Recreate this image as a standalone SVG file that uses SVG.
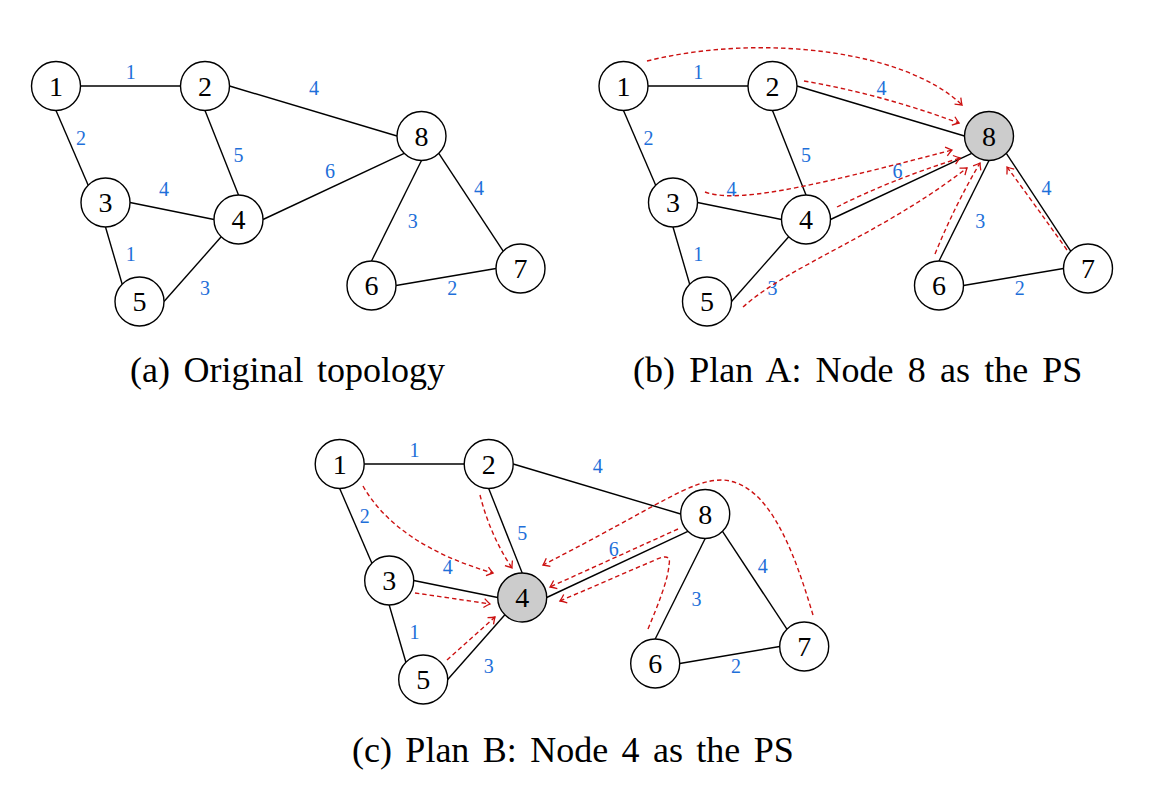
<svg xmlns="http://www.w3.org/2000/svg" width="1151" height="800" viewBox="0 0 1151 800">
<style>
.node circle{fill:#fff;stroke:#000;stroke-width:1.4}
.node.ps circle{fill:#cccccc}
.node text{font-family:"Liberation Serif","Times New Roman",serif;font-size:28px;fill:#000;text-anchor:middle}
.lbl{font-family:"Liberation Serif","Times New Roman",serif;font-size:20px;fill:#1e6fd9;text-anchor:middle}
.flow{fill:none;stroke:#cc1111;stroke-width:1.4;stroke-dasharray:4.5 3;marker-end:url(#ah)}
.cap{font-family:"Liberation Serif","Times New Roman",serif;font-size:36px;fill:#000;word-spacing:4.5px}
</style>
<defs>
<marker id="ah" viewBox="-8 -6 10 12" markerWidth="10" markerHeight="12" refX="0" refY="0" orient="auto" markerUnits="userSpaceOnUse">
<path d="M-6,-4.5 Q-2,-1.2 0,0 Q-2,1.2 -6,4.5" fill="none" stroke="#cc1111" stroke-width="1.3" stroke-dasharray="none"/>
</marker>
<g id="edgeset" stroke="#000" stroke-width="1.4" fill="none">
<line x1="80.5" y1="86" x2="180.5" y2="86"/>
<line x1="56" y1="110.5" x2="88.2" y2="185.2"/>
<line x1="205" y1="110.5" x2="238.5" y2="195"/>
<line x1="229.5" y1="86" x2="397" y2="136"/>
<line x1="130" y1="202.5" x2="214" y2="219.5"/>
<line x1="105.5" y1="227" x2="122.2" y2="284.2"/>
<line x1="221.2" y1="236.8" x2="164" y2="301.5"/>
<line x1="263" y1="219.5" x2="404.2" y2="153.3"/>
<line x1="421.5" y1="160.5" x2="371.5" y2="261"/>
<line x1="438.8" y1="153.3" x2="503.2" y2="251.2"/>
<line x1="396" y1="285.5" x2="496" y2="268.5"/>
</g>
<g id="labelset">
<text class="lbl" x="130.7" y="79">1</text>
<text class="lbl" x="81" y="145">2</text>
<text class="lbl" x="238.5" y="162">5</text>
<text class="lbl" x="314" y="95">4</text>
<text class="lbl" x="164" y="196">4</text>
<text class="lbl" x="130.7" y="261">1</text>
<text class="lbl" x="205" y="295">3</text>
<text class="lbl" x="330" y="178">6</text>
<text class="lbl" x="412.7" y="228">3</text>
<text class="lbl" x="479" y="195">4</text>
<text class="lbl" x="452.3" y="295">2</text>
</g>
</defs>

<!-- Panel (a) -->
<g id="panel-a">
<g id="a-connectors"><use href="#edgeset"/><use href="#labelset"/></g>
<g id="a-n1" class="node"><circle cx="56" cy="86" r="24.5"/><text x="56" y="95.5">1</text></g>
<g id="a-n2" class="node"><circle cx="205" cy="86" r="24.5"/><text x="205" y="95.5">2</text></g>
<g id="a-n3" class="node"><circle cx="105.5" cy="202.5" r="24.5"/><text x="105.5" y="212">3</text></g>
<g id="a-n4" class="node"><circle cx="238.5" cy="219.5" r="24.5"/><text x="238.5" y="229">4</text></g>
<g id="a-n5" class="node"><circle cx="139.5" cy="301.5" r="24.5"/><text x="139.5" y="311">5</text></g>
<g id="a-n6" class="node"><circle cx="371.5" cy="285.5" r="24.5"/><text x="371.5" y="295">6</text></g>
<g id="a-n7" class="node"><circle cx="520.5" cy="268.5" r="24.5"/><text x="520.5" y="278">7</text></g>
<g id="a-n8" class="node"><circle cx="421.5" cy="136" r="24.5"/><text x="421.5" y="145.5">8</text></g>
<text class="cap" x="130" y="382">(a) Original topology</text>
</g>

<!-- Panel (b) -->
<g id="panel-b" transform="translate(567.5,0)">
<g id="b-connectors"><use href="#edgeset"/><use href="#labelset"/></g>
<g id="b-n1" class="node"><circle cx="56" cy="86" r="24.5"/><text x="56" y="95.5">1</text></g>
<g id="b-n2" class="node"><circle cx="205" cy="86" r="24.5"/><text x="205" y="95.5">2</text></g>
<g id="b-n3" class="node"><circle cx="105.5" cy="202.5" r="24.5"/><text x="105.5" y="212">3</text></g>
<g id="b-n4" class="node"><circle cx="238.5" cy="219.5" r="24.5"/><text x="238.5" y="229">4</text></g>
<g id="b-n5" class="node"><circle cx="139.5" cy="301.5" r="24.5"/><text x="139.5" y="311">5</text></g>
<g id="b-n6" class="node"><circle cx="371.5" cy="285.5" r="24.5"/><text x="371.5" y="295">6</text></g>
<g id="b-n7" class="node"><circle cx="520.5" cy="268.5" r="24.5"/><text x="520.5" y="278">7</text></g>
<g id="b-n8" class="node ps"><circle cx="421.5" cy="136" r="24.5"/><text x="421.5" y="145.5">8</text></g>
</g>
<g id="b-flows">
<path class="flow" d="M647,61 C760,33 905,50 962,105"/>
<path class="flow" d="M804,81 Q880,94 959,123"/>
<path class="flow" d="M705,192 C735,203 800,190 952,150"/>
<path class="flow" d="M837,207 Q890,180 960,158"/>
<path class="flow" d="M743,307 C790,265 880,235 967,168"/>
<path class="flow" d="M935,254 Q955,205 980,163"/>
<path class="flow" d="M1067,250 Q1035,205 1007,167"/>
</g>
<text class="cap" x="633" y="382" style="word-spacing:5.2px">(b) Plan A: Node 8 as the PS</text>

<!-- Panel (c) -->
<g id="panel-c" transform="translate(283.7,378)">
<g id="c-connectors"><use href="#edgeset"/><use href="#labelset"/></g>
<g id="c-n1" class="node"><circle cx="56" cy="86" r="24.5"/><text x="56" y="95.5">1</text></g>
<g id="c-n2" class="node"><circle cx="205" cy="86" r="24.5"/><text x="205" y="95.5">2</text></g>
<g id="c-n3" class="node"><circle cx="105.5" cy="202.5" r="24.5"/><text x="105.5" y="212">3</text></g>
<g id="c-n4" class="node ps"><circle cx="238.5" cy="219.5" r="24.5"/><text x="238.5" y="229">4</text></g>
<g id="c-n5" class="node"><circle cx="139.5" cy="301.5" r="24.5"/><text x="139.5" y="311">5</text></g>
<g id="c-n6" class="node"><circle cx="371.5" cy="285.5" r="24.5"/><text x="371.5" y="295">6</text></g>
<g id="c-n7" class="node"><circle cx="520.5" cy="268.5" r="24.5"/><text x="520.5" y="278">7</text></g>
<g id="c-n8" class="node"><circle cx="421.5" cy="136" r="24.5"/><text x="421.5" y="145.5">8</text></g>
</g>
<g id="c-flows">
<path class="flow" d="M363,486 C385,525 430,555 493,573"/>
<path class="flow" d="M480,495 Q490,535 512,568"/>
<path class="flow" d="M415,593 Q450,598 490,604"/>
<path class="flow" d="M447,660 L495,617"/>
<path class="flow" d="M678,529 L550,587"/>
<path class="flow" d="M648,629 C658,605 668,580 669,565 Q672,552 655,560 L560,601"/>
<path class="flow" d="M813,615 C795,555 770,482 722,480 C690,480 660,505 543,565"/>
</g>
<text class="cap" x="352" y="762" style="word-spacing:4.4px">(c) Plan B: Node 4 as the PS</text>
</svg>
